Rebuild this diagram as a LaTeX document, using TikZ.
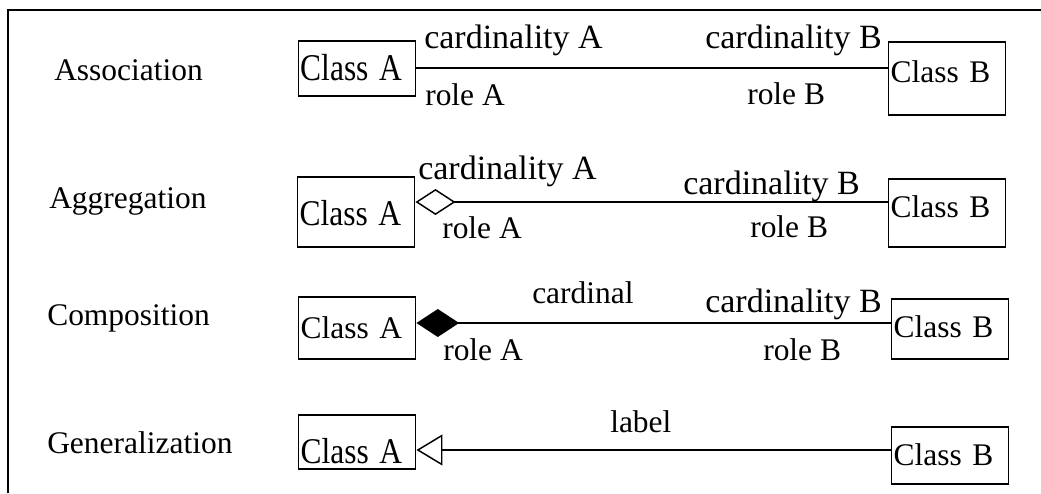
\documentclass[tikz,border=0pt]{standalone}
\usepackage{graphicx}
\usepackage{fontspec}
\setmainfont{Liberation Serif}
\usepackage{tikz}
\usetikzlibrary{arrows.meta}

\begin{document}
\begin{tikzpicture}[x=0.75pt, y=-0.75pt,
    every node/.style={font=\fontsize{23.6}{28}\selectfont},
    cls/.style={draw, line width=1.1pt, anchor=base west, inner xsep=1.5pt,
        inner ysep=0pt, text width=84.75pt, align=left},
    txt/.style={anchor=base west, inner sep=0pt},
    card/.style={txt, font=\fontsize{25.5}{30}\selectfont},
    rel/.style={line width=1.1pt},
    aggr/.style={rel, {Diamond[open, length=30pt, width=19.5pt, line width=1.1pt]}-},
    comp/.style={rel, {Diamond[length=32pt, width=21pt]}-},
    gen/.style={rel, {Triangle[open, length=19.5pt, width=23.25pt, line width=1.1pt]}-}]
    \useasboundingbox (0,0) rectangle (1041,493);
    % frame
    \draw[line width=1.3pt] (8,493) -- (8,10) -- (1041,10);

    % association
    \node[txt] (kAssoc) at (54,80) {Association};
    \node[cls, text height=29.25pt, text depth=12pt] (A1) at (298,80) {\scalebox{1}[1.2]{Class A}};
    \node[cls, text height=30pt, text depth=24.75pt] (B1) at (888,82) {Class B};
    \draw[rel] (A1.east |- 0,68) -- (B1.west |- 0,68);
    \node[card] (cA1) at (424,48) {cardinality A};
    \node[txt] (rA1) at (425,105) {role A};
    \node[card] (cB1) at (705,48) {cardinality B};
    \node[txt] (rB1) at (747,104) {role B};

    % aggregation
    \node[txt] (kAggr) at (49,208) {Aggregation};
    \node[cls, text height=36pt, text depth=16.5pt] (A2) at (297,225) {\scalebox{1}[1.15]{Class A}};
    \node[cls, text height=28.5pt, text depth=22.5pt] (B2) at (888,217) {Class B};
    \draw[aggr] (A2.east |- 0,202) -- (B2.west |- 0,202);
    \node[card] (cA2) at (418,179) {cardinality A};
    \node[txt] (rA2) at (442,238) {role A};
    \node[card] (cB2) at (683,194) {cardinality B};
    \node[txt] (rB2) at (750,237) {role B};

    % composition
    \node[txt] (kComp) at (47,325) {Composition};
    \node[cls, text height=30.75pt, text depth=15.75pt] (A3) at (298,338) {Class A};
    \node[cls, text height=28.5pt, text depth=16.5pt] (B3) at (891,337) {Class B};
    \draw[comp] (A3.east |- 0,323) -- (B3.west |- 0,323);
    \node[txt] (cA3) at (532,303) {cardinal};
    \node[card] (cB3) at (705,312) {cardinality B};
    \node[txt] (rA3) at (443,360) {role A};
    \node[txt] (rB3) at (763,360) {role B};

    % generalization
    \node[txt] (kGen) at (47,453) {Generalization};
    \node[cls, text height=36pt, text depth=4.5pt] (A4) at (298,463) {\scalebox{1}[1.15]{Class A}};
    \node[cls, text height=28.5pt, text depth=14.25pt] (B4) at (891,465) {Class B};
    \draw[gen] (A4.east |- 0,450) -- (B4.west |- 0,450);
    \node[txt] (lGen) at (610,432) {label};
\end{tikzpicture}
\end{document}
